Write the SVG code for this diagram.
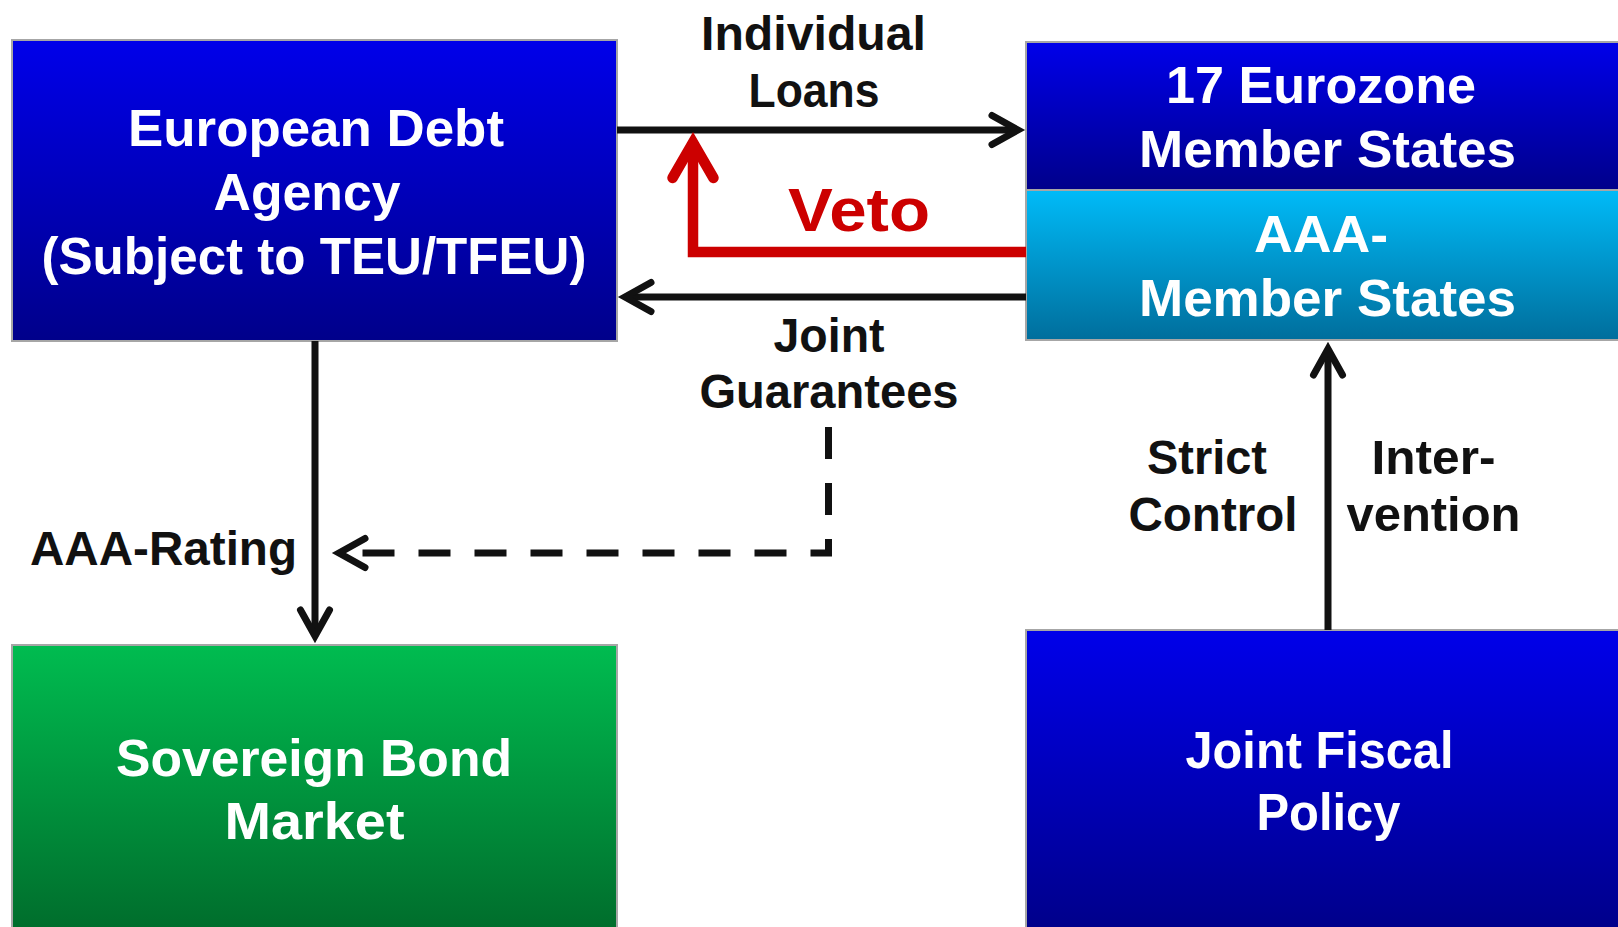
<svg xmlns="http://www.w3.org/2000/svg" width="1618" height="927" viewBox="0 0 1618 927">
  <style>
    .box { stroke: #a6a6a6; stroke-width: 2; }
    .bt { font-family: "Liberation Sans", Arial, sans-serif; font-weight: 700; font-size: 52px; fill: #ffffff; text-anchor: middle; }
    .lb { font-family: "Liberation Sans", Arial, sans-serif; font-weight: 700; font-size: 47.5px; fill: #111111; text-anchor: middle; }
    .veto { font-family: "Liberation Sans", Arial, sans-serif; font-weight: 700; font-size: 61px; fill: #cc0000; text-anchor: middle; }
    .ln { fill: none; stroke: #111111; stroke-width: 7; }
    .dash { stroke-dasharray: 32 24; }
    .red { fill: none; stroke: #cc0000; stroke-width: 10.5; stroke-linejoin: miter; }
  </style>
  <defs>
    <linearGradient id="gBlue" x1="0" y1="0" x2="0" y2="1">
      <stop offset="0" stop-color="#0000ea"/>
      <stop offset="1" stop-color="#00008a"/>
    </linearGradient>
    <linearGradient id="gCyan" x1="0" y1="0" x2="0" y2="1">
      <stop offset="0" stop-color="#00bbf8"/>
      <stop offset="1" stop-color="#006e9c"/>
    </linearGradient>
    <linearGradient id="gGreen" x1="0" y1="0" x2="0" y2="1">
      <stop offset="0" stop-color="#00bc50"/>
      <stop offset="1" stop-color="#00692a"/>
    </linearGradient>
    <marker id="arrowK" markerUnits="userSpaceOnUse" markerWidth="60" markerHeight="60" refX="0" refY="0" orient="auto" overflow="visible">
      <path d="M-26,-14.5 L0,0 L-26,14.5" fill="none" stroke="#111111" stroke-width="7" stroke-linecap="round" stroke-linejoin="miter"/>
    </marker>
    <marker id="arrowR" markerUnits="userSpaceOnUse" markerWidth="80" markerHeight="80" refX="0" refY="0" orient="auto" overflow="visible">
      <path d="M-35.5,-20.5 L0,0 L-35.5,20.5" fill="none" stroke="#cc0000" stroke-width="10.5" stroke-linecap="round" stroke-linejoin="miter"/>
    </marker>
  </defs>

  <rect width="1618" height="927" fill="#ffffff"/>

  <g id="node-eda">
    <rect class="box" x="12" y="40" width="605" height="301" fill="url(#gBlue)"/>
    <text class="bt" x="316" y="146" textLength="376" lengthAdjust="spacingAndGlyphs">European Debt</text>
    <text class="bt" x="307" y="210" textLength="187" lengthAdjust="spacingAndGlyphs">Agency</text>
    <text class="bt" x="314" y="274" textLength="545" lengthAdjust="spacingAndGlyphs">(Subject to TEU/TFEU)</text>
  </g>

  <g id="node-eurozone">
    <rect class="box" x="1026" y="42" width="610" height="148" fill="url(#gBlue)"/>
    <text class="bt" x="1321" y="103" textLength="310" lengthAdjust="spacingAndGlyphs">17 Eurozone</text>
    <text class="bt" x="1327.5" y="167" textLength="377" lengthAdjust="spacingAndGlyphs">Member States</text>
  </g>

  <g id="node-aaa">
    <rect class="box" x="1026" y="190" width="610" height="150" fill="url(#gCyan)"/>
    <text class="bt" x="1321" y="252" textLength="134" lengthAdjust="spacingAndGlyphs">AAA-</text>
    <text class="bt" x="1327.5" y="316" textLength="377" lengthAdjust="spacingAndGlyphs">Member States</text>
  </g>

  <g id="node-bond-market">
    <rect class="box" x="12" y="645" width="605" height="300" fill="url(#gGreen)"/>
    <text class="bt" x="314" y="776" textLength="396" lengthAdjust="spacingAndGlyphs">Sovereign Bond</text>
    <text class="bt" x="314.5" y="839" textLength="180" lengthAdjust="spacingAndGlyphs">Market</text>
  </g>

  <g id="node-fiscal">
    <rect class="box" x="1026" y="630" width="610" height="300" fill="url(#gBlue)"/>
    <text class="bt" x="1319.5" y="768" textLength="268" lengthAdjust="spacingAndGlyphs">Joint Fiscal</text>
    <text class="bt" x="1328.5" y="830" textLength="144" lengthAdjust="spacingAndGlyphs">Policy</text>
  </g>

  <g id="connectors">
    <path class="ln" d="M617,130 H1018" marker-end="url(#arrowK)"/>
    <path class="ln" d="M1026,297 H625" marker-end="url(#arrowK)"/>
    <path class="ln" d="M315,341 V636" marker-end="url(#arrowK)"/>
    <path class="ln" d="M1328,630 V349" marker-end="url(#arrowK)"/>
    <path class="ln dash" d="M828.5,427 V553 H339" marker-end="url(#arrowK)"/>
    <path class="red" d="M1026,252 H693 V142.5" marker-end="url(#arrowR)"/>

    <text class="lb" x="813.5" y="50" textLength="225" lengthAdjust="spacingAndGlyphs">Individual</text>
    <text class="lb" x="814" y="107" textLength="131" lengthAdjust="spacingAndGlyphs">Loans</text>
    <text class="veto" x="859" y="231" textLength="142" lengthAdjust="spacingAndGlyphs">Veto</text>
    <text class="lb" x="829" y="352" textLength="111" lengthAdjust="spacingAndGlyphs">Joint</text>
    <text class="lb" x="829" y="408" textLength="259" lengthAdjust="spacingAndGlyphs">Guarantees</text>
    <text class="lb" x="163.5" y="565" textLength="267" lengthAdjust="spacingAndGlyphs">AAA-Rating</text>
    <text class="lb" x="1207" y="474" textLength="120" lengthAdjust="spacingAndGlyphs">Strict</text>
    <text class="lb" x="1213" y="531" textLength="169" lengthAdjust="spacingAndGlyphs">Control</text>
    <text class="lb" x="1433.5" y="474" textLength="124" lengthAdjust="spacingAndGlyphs">Inter-</text>
    <text class="lb" x="1433.5" y="531" textLength="174" lengthAdjust="spacingAndGlyphs">vention</text>
  </g>
</svg>
